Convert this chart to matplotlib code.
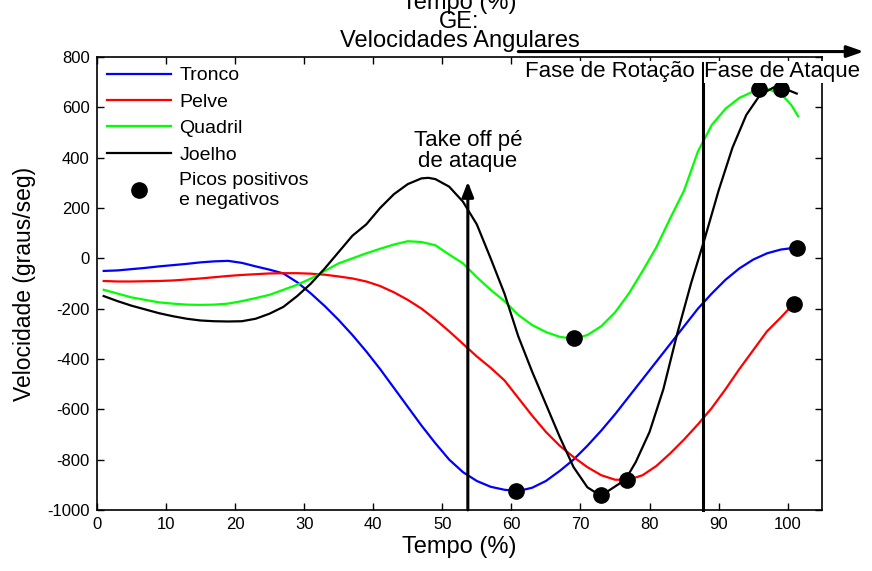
import matplotlib
matplotlib.use("Agg")
import matplotlib.pyplot as plt

plt.rcParams['font.family'] = ['Liberation Sans', 'DejaVu Sans']
plt.rcParams['axes.unicode_minus'] = False

# Angular velocity curves (graus/seg) over the movement cycle (%)
tronco_x = [1, 3, 5, 7, 9, 11, 13, 15, 17, 19, 21, 23, 25, 27, 29, 31, 33, 35, 37, 39, 41, 43, 45, 47, 49,
            51, 53, 55, 57, 59, 61, 63, 65, 67, 69, 71, 73, 75, 77, 79, 81, 83, 85, 87, 89, 91, 93, 95, 97, 99, 101]
tronco_y = [-50, -48, -43, -38, -32, -27, -22, -16, -12, -10, -18, -32, -45, -60, -95, -140, -190, -245, -305, -370,
            -440, -515, -590, -665, -735, -800, -850, -885, -908, -920, -925, -912, -885, -845, -800, -745, -685,
            -620, -550, -480, -410, -340, -270, -200, -140, -85, -40, -5, 20, 35, 42]

pelve_x = [1, 3, 5, 7, 9, 11, 13, 15, 17, 19, 21, 23, 25, 27, 29, 31, 33, 35, 37, 39, 41, 43, 45, 47, 49,
           51, 53, 55, 57, 59, 61, 63, 65, 67, 69, 71, 73, 75, 77, 79, 81, 83, 85, 87, 89, 91, 93, 95, 97, 99, 100.7]
pelve_y = [-90, -92, -92, -91, -90, -88, -84, -80, -75, -70, -66, -63, -60, -59, -59, -61, -65, -72, -80, -92,
           -110, -135, -165, -200, -243, -290, -340, -390, -435, -485, -555, -625, -690, -745, -790, -830, -862,
           -880, -880, -862, -825, -775, -720, -660, -595, -520, -440, -365, -290, -235, -185]

quadril_x = [1, 3, 5, 7, 9, 11, 13, 15, 17, 19, 21, 23, 25, 27, 29, 31, 33, 35, 37, 39, 41, 43, 45, 47, 49,
             51, 53, 55, 57, 59, 61, 63, 65, 67, 69, 71, 73, 75, 77, 79, 81, 83, 85, 87, 89, 91, 93, 95, 97, 99,
             100.5, 101.5]
quadril_y = [-125, -140, -155, -165, -175, -180, -184, -185, -184, -180, -170, -158, -145, -125, -105, -80, -50,
             -20, 0, 20, 38, 55, 68, 65, 52, 15, -20, -75, -125, -170, -225, -265, -293, -312, -320, -305, -270,
             -215, -140, -50, 45, 160, 270, 425, 530, 595, 638, 663, 673, 655, 610, 565]

joelho_x = [1, 3, 5, 7, 9, 11, 13, 15, 17, 19, 21, 23, 25, 27, 29, 31, 33, 35, 37, 39, 41, 43, 45, 47, 48, 49,
            51, 53, 55, 57, 59, 61, 63, 65, 67, 69, 71, 72.7, 74, 76.5, 78, 80, 82, 84, 86, 88, 90, 92, 94, 96,
            98, 99.5, 101.3]
joelho_y = [-150, -170, -188, -203, -218, -230, -240, -247, -250, -251, -250, -240, -220, -193, -150, -100, -40,
            25, 90, 135, 200, 255, 295, 318, 320, 315, 285, 225, 135, 0, -140, -310, -450, -580, -710, -830, -910,
            -940, -925, -880, -810, -690, -520, -300, -100, 80, 270, 440, 570, 650, 680, 675, 655]

# Positive and negative peaks
picos_x = [60.6, 69.0, 73.0, 76.7, 95.9, 99.0, 101.3, 100.9]
picos_y = [-925, -318, -942, -882, 675, 675, 43, -180]

x_ticks = [0, 10, 20, 30, 40, 50, 60, 70, 80, 90, 100]
y_ticks = [-1000, -800, -600, -400, -200, 0, 200, 400, 600, 800]

takeoff_x = 53.7
fase_x = 87.7

fig = plt.figure(figsize=(8.72, 5.71), dpi=100)
ax = fig.add_axes([0.111, 0.107, 0.832, 0.793])

ax.plot(tronco_x, tronco_y, color='#0000ff', lw=1.6, label='Tronco')
ax.plot(pelve_x, pelve_y, color='#ff0000', lw=1.6, label='Pelve')
ax.plot(quadril_x, quadril_y, color='#00ff00', lw=1.6, label='Quadril')
ax.plot(joelho_x, joelho_y, color='black', lw=1.6, label='Joelho')
ax.plot(picos_x, picos_y, 'o', color='black', ms=11, ls='none', label='Picos positivos\ne negativos')

ax.set_xlim(0, 105)
ax.set_ylim(-1000, 800)
ax.set_xticks(x_ticks)
ax.set_yticks(y_ticks)
ax.tick_params(direction='in', top=True, right=True, length=5, width=1, labelsize=12, pad=5)
for s in ax.spines.values():
    s.set_linewidth(1.2)

ax.set_xlabel('Tempo (%)', fontsize=17, labelpad=3)
ax.set_ylabel('Velocidade (graus/seg)', fontsize=16.5, labelpad=8)
ax.set_title('Tempo (%)\nGE:\nVelocidades Angulares', fontsize=17, pad=7, linespacing=0.82)

# Phase separator and take-off marker
ax.plot([fase_x, fase_x], [-1000, 778], color='black', lw=2.2, clip_on=False)
ax.annotate('', xy=(takeoff_x, 305), xytext=(takeoff_x, -1000),
            arrowprops=dict(arrowstyle='-|>,head_length=0.9,head_width=0.35', color='black', lw=2.2,
                            shrinkA=0, shrinkB=0))
ax.annotate('', xy=(111, 822), xytext=(61, 822), annotation_clip=False,
            arrowprops=dict(arrowstyle='-|>,head_length=1.0,head_width=0.35', color='black', lw=2.2,
                            shrinkA=0, shrinkB=0))

ax.text(takeoff_x, 425, 'Take off pé\nde ataque', fontsize=16, ha='center', va='center', linespacing=1.0)
ax.text(74.3, 742, 'Fase de Rotação', fontsize=16, ha='center', va='center',
        bbox=dict(facecolor='white', edgecolor='none', pad=0.3))
ax.text(99.2, 742, 'Fase de Ataque', fontsize=16, ha='center', va='center', clip_on=False,
        bbox=dict(facecolor='white', edgecolor='none', pad=0.3))

ax.legend(loc='upper left', frameon=False, fontsize=14, handlelength=3.3, labelspacing=0.45,
          borderaxespad=0.15, handletextpad=0.45, borderpad=0.35)

fig.savefig('out.png', dpi=100)
